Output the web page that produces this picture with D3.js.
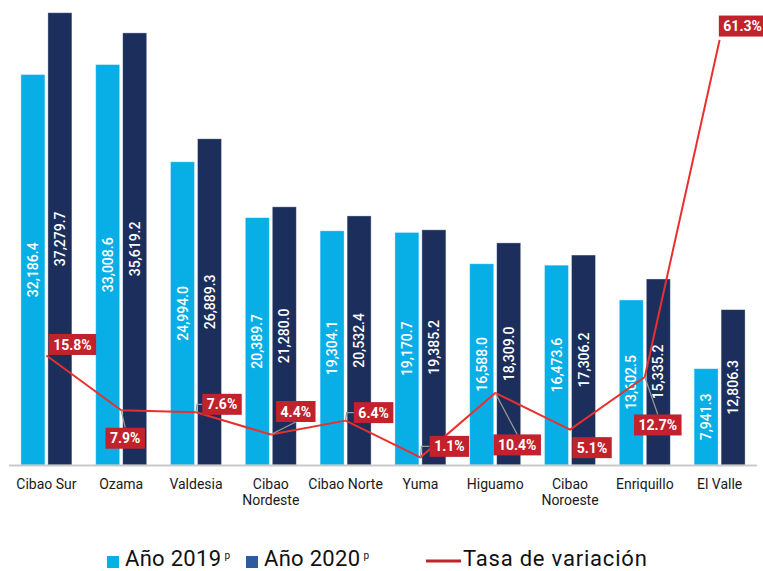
<!DOCTYPE html>
<html>
<head>
<meta charset="utf-8">
<script src="https://cdn.jsdelivr.net/npm/d3@7/dist/d3.min.js"></script>
<style>
  html, body { margin: 0; padding: 0; background: #fff; }
  svg { display: block; font-family: Roboto, "Noto Sans", sans-serif; }
</style>
</head>
<body>
<svg id="chart" width="763" height="571"></svg>
<script>
// Regions (two-line names split with "\n")
const regions = ["Cibao Sur", "Ozama", "Valdesia", "Cibao\nNordeste", "Cibao Norte",
                 "Yuma", "Higuamo", "Cibao\nNoroeste", "Enriquillo", "El Valle"];
const values2019 = [32186.4, 33008.6, 24994.0, 20389.7, 19304.1, 19170.7, 16588.0, 16473.6, 13602.5, 7941.3];
const values2020 = [37279.7, 35619.2, 26889.3, 21280.0, 20532.4, 19385.2, 18309.0, 17306.2, 15335.2, 12806.3];
const growthRates = [15.8, 7.9, 7.6, 4.4, 6.4, 1.1, 10.4, 5.1, 12.7, 61.3];
const seriesNames = ["Año 2019", "Año 2020"];
const seriesMark = "p";
const lineName = "Tasa de variación";

// Placement of the percentage tags around each line vertex: offset of the tag
// centre from the vertex, and how the leader line connects them.
const tagLayout = [
  { dx: 26, dy: -11, leader: "none" },
  { dx: 4,  dy: 28,  leader: "top" },
  { dx: 26, dy: -8,  leader: "elbow" },
  { dx: 25, dy: -23, leader: "bottom" },
  { dx: 28, dy: -8,  leader: "elbow" },
  { dx: 29, dy: -11, leader: "elbow" },
  { dx: 22, dy: 52,  leader: "top" },
  { dx: 22, dy: 18,  leader: "none" },
  { dx: 13, dy: 48,  leader: "top" },
  { dx: 23, dy: -14, leader: "none" }
];

const colors = { y2019: "#08afe6", y2020: "#1c2f5c", legend2020: "#2e5b9b",
                 line: "#e8302e", tag: "#c1222b", leader: "#9a9a9a", axis: "#c9c9c9" };

const svg = d3.select("#chart");
const baseY = 465;

const x0 = d3.scaleBand().domain(regions).range([9, 757]).paddingInner(0.318).paddingOuter(0.159);
const x1 = d3.scaleBand().domain(seriesNames).range([0, x0.bandwidth()]).paddingInner(0.111);
const y = d3.scaleLinear().domain([0, 38000]).range([baseY, 4]);
const yRate = d3.scaleLinear().domain([0, 66.5]).range([baseY, 4]);

const rows = regions.map((r, i) => ({ region: r, vals: [values2019[i], values2020[i]], rate: growthRates[i], i }));
const fmt = d3.format(",.1f");

// Bars
const groups = svg.append("g").selectAll("g").data(rows).join("g")
  .attr("transform", d => `translate(${x0(d.region)},0)`);

const barData = d => d.vals.map((v, k) => ({ series: seriesNames[k], v, k }));
groups.selectAll("rect").data(barData).join("rect")
  .attr("x", d => x1(d.series))
  .attr("y", d => y(d.v))
  .attr("width", x1.bandwidth())
  .attr("height", d => baseY - y(d.v))
  .attr("fill", d => d.k === 0 ? colors.y2019 : colors.y2020)
  .attr("stroke", "rgba(255,255,255,0.45)")
  .attr("stroke-width", 0.8);

// Rotated value labels centred in each bar
groups.selectAll("text").data(barData).join("text")
  .attr("transform", d => `translate(${x1(d.series) + x1.bandwidth() / 2},${(y(d.v) + baseY) / 2}) rotate(-90)`)
  .attr("text-anchor", "middle")
  .attr("dy", "0.36em")
  .attr("fill", "#fff")
  .attr("font-size", 14)
  .attr("font-weight", 500)
  .text(d => fmt(d.v));

// Baseline
svg.append("line")
  .attr("x1", 9).attr("x2", 757)
  .attr("y1", baseY + 0.5).attr("y2", baseY + 0.5)
  .attr("stroke", colors.axis).attr("stroke-width", 2);

// Category labels
const cx = d => x0(d.region) + x0.bandwidth() / 2;
svg.append("g").selectAll("text").data(rows).join("text")
  .attr("x", cx)
  .attr("y", 489)
  .attr("text-anchor", "middle")
  .attr("font-size", 14)
  .attr("fill", "#1a1a1a")
  .each(function(d) {
    const parts = d.region.split("\n");
    d3.select(this).selectAll("tspan").data(parts).join("tspan")
      .attr("x", cx(d))
      .attr("dy", (p, j) => j === 0 ? 0 : 16)
      .text(p => p);
  });

// Growth-rate line
const line = d3.line().x(cx).y(d => yRate(d.rate));
svg.append("path").datum(rows)
  .attr("d", line)
  .attr("fill", "none")
  .attr("stroke", colors.line)
  .attr("stroke-width", 2)
  .attr("stroke-linejoin", "round");

// Percentage tags with leaders
const tags = svg.append("g");
rows.forEach(d => {
  const lay = tagLayout[d.i];
  const px = cx(d), py = yRate(d.rate);
  const tx = px + lay.dx, ty = py + lay.dy;
  const label = d.rate.toFixed(1) + "%";
  const t = tags.append("text")
    .attr("x", tx).attr("y", ty).attr("dy", "0.36em")
    .attr("text-anchor", "middle")
    .attr("font-size", 14).attr("font-weight", 700)
    .attr("fill", "#fff")
    .text(label);
  const w = t.node().getComputedTextLength() + 9, h = 21;
  const bx = tx - w / 2, by = ty - h / 2;
  if (lay.leader === "top") {
    tags.insert("line", "text").attr("x1", px).attr("y1", py).attr("x2", tx).attr("y2", by)
      .attr("stroke", colors.leader).attr("stroke-width", 1.2);
  } else if (lay.leader === "bottom") {
    tags.insert("line", "text").attr("x1", px).attr("y1", py).attr("x2", tx).attr("y2", by + h)
      .attr("stroke", colors.leader).attr("stroke-width", 1.2);
  } else if (lay.leader === "elbow") {
    tags.insert("path", "text").attr("d", `M${px},${py}L${px + 1},${ty}L${bx},${ty}`)
      .attr("fill", "none").attr("stroke", colors.leader).attr("stroke-width", 1.2);
  }
  tags.insert("rect", "text").attr("x", bx).attr("y", by).attr("width", w).attr("height", h)
    .attr("fill", colors.tag);
  t.raise();
});

// Legend
const legendY = 566;
const legend = svg.append("g").attr("fill", "#111");
const legendItems = [
  { x: 107, color: colors.y2019, name: seriesNames[0] },
  { x: 246, color: colors.legend2020, name: seriesNames[1] }
];
legendItems.forEach(it => {
  legend.append("rect").attr("x", it.x).attr("y", 556).attr("width", 12).attr("height", 12).attr("fill", it.color);
  const txt = legend.append("text").attr("x", it.x + 18).attr("y", legendY)
    .attr("font-size", 22).attr("letter-spacing", 0.3).text(it.name);
  const tw = txt.node().getComputedTextLength();
  legend.append("text").attr("x", it.x + 18 + tw + 3).attr("y", 559).attr("font-size", 10).text(seriesMark);
});
legend.append("line").attr("x1", 426).attr("x2", 461).attr("y1", 561).attr("y2", 561)
  .attr("stroke", colors.tag).attr("stroke-width", 3);
legend.append("text").attr("x", 463).attr("y", legendY)
  .attr("font-size", 22).attr("letter-spacing", 0.8).text(lineName);
</script>
</body>
</html>
